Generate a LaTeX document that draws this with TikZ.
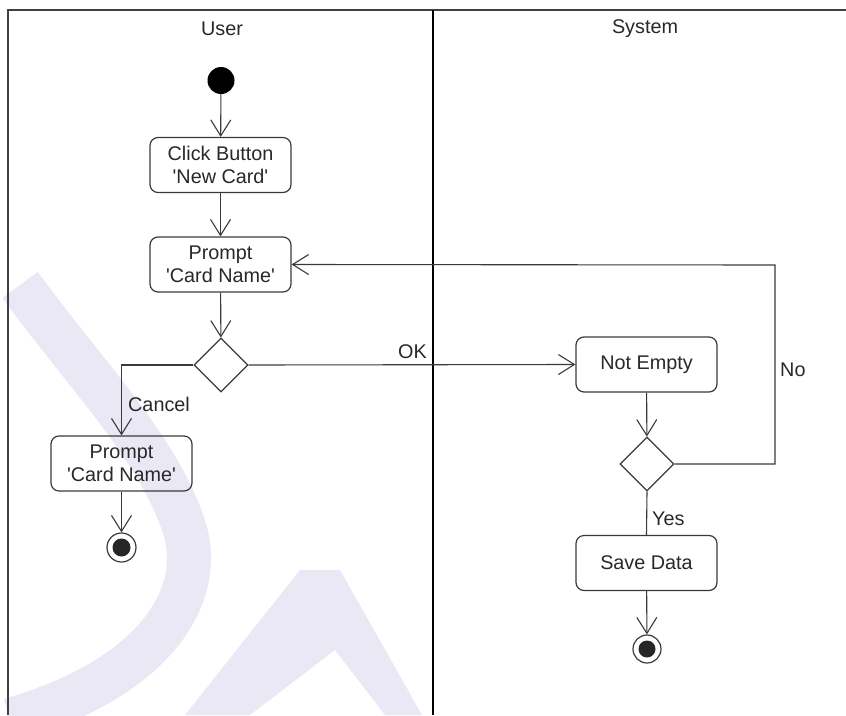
\documentclass[tikz,border=0pt]{standalone}
\usepackage{fontspec}
\setmainfont{Liberation Sans}
\usetikzlibrary{shapes.geometric,arrows.meta}
\definecolor{ink}{RGB}{58,58,58}
\definecolor{txt}{RGB}{40,40,40}
\definecolor{logo}{RGB}{234,232,244}
\begin{document}
\begin{tikzpicture}[x=1pt,y=-1pt,
  font=\fontsize{19.8}{23}\selectfont,
  act/.style={draw=ink,line width=1.2pt,rounded corners=8pt,minimum width=141pt,
    minimum height=55pt,align=center,text=txt,inner sep=0pt},
  decision/.style={draw=ink,line width=1.2pt,diamond,minimum width=54pt,
    minimum height=54pt,inner sep=0pt},
  flow/.style={draw=ink,line width=1.1pt,-{Straight Barb[length=16pt,width=20pt,line width=1.1pt]}},
  plain/.style={draw=ink,line width=1.1pt},
  lbl/.style={text=txt,inner sep=0pt},
  lane/.style={draw=black!75,line width=1.8pt}]
\useasboundingbox (0,0) rectangle (846,715);

% faint background logo strokes
\draw[logo,line width=44pt,line cap=butt]
  (20,285) .. controls (90,380) and (160,450) .. (185,530)
  .. controls (205,600) and (150,680) .. (10,720);
\fill[logo] (185,715) -- (300,570) -- (340,570) -- (422,715) -- (385,715)
  -- (335,650) -- (250,715) -- cycle;

% swimlanes
\draw[lane] (8,715) -- (8,10) -- (846,10);
\draw[draw=black,line width=2.6pt] (433,10) -- (433,715);
\node[lbl] (userlbl) at (222,29) {User};
\node[lbl] (syslbl) at (645,29) {System};

% user lane
\node[circle,fill=black,minimum size=27pt,inner sep=0pt] (init) at (221,80.5) {};
\node[act] (click) at (220.5,165) {Click Button\\\textquotesingle New Card\textquotesingle};
\node[act] (prompt) at (220.5,264.5) {Prompt\\\textquotesingle Card Name\textquotesingle};
\node[decision] (dec1) at (221,365) {};
\node[act] (prompt2) at (121.5,463.5) {Prompt\\\textquotesingle Card Name\textquotesingle};
\node[circle,draw=ink,line width=1.2pt,minimum size=29pt,inner sep=0pt] (end1) at (121.5,547.5) {};
\fill[black!85] (end1.center) circle (9pt);

% system lane
\node[act] (check) at (646.5,364.5) {Not Empty};
\node[decision] (dec2) at (647,464) {};
\node[act] (save) at (646.5,563) {Save Data};
\node[circle,draw=ink,line width=1.2pt,minimum size=28pt,inner sep=0pt] (end2) at (647,649) {};
\fill[black!85] (end2.center) circle (8.5pt);
\coordinate (loop) at (775,265);

% flows
\draw[flow] (init) -- (click);
\draw[flow] (click) -- (prompt);
\draw[flow] (prompt) -- (dec1);
\draw[flow] (dec1.west) -| (prompt2.north);
\draw[flow] (prompt2) -- (end1);
\draw[flow] (dec1.east) -- (check.west);
\draw[flow] (check) -- (dec2);
\draw[flow] (dec2.east) -| (loop) -- (prompt.east);
\draw[plain] (dec2.south) -- (save.north);
\draw[flow] (save) -- (end2);

% guard labels
\node[lbl,anchor=west] (cancel) at (128,404.5) {Cancel};
\node[lbl,anchor=east] (ok) at (427,352) {OK};
\node[lbl,anchor=west] (no) at (780,369.5) {No};
\node[lbl,anchor=west] (yes) at (652,518.5) {Yes};
\end{tikzpicture}
\end{document}
